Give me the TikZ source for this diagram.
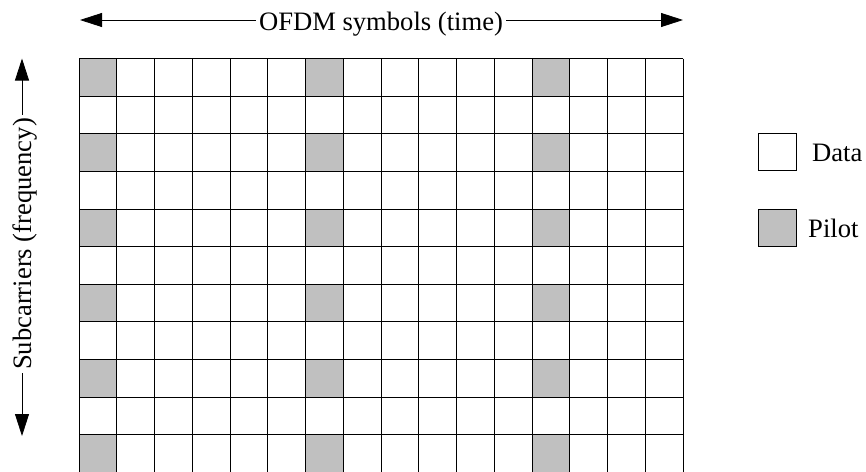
\documentclass[tikz,border=0pt]{standalone}
\usepackage{fontspec}
\setmainfont{Liberation Serif}
\usetikzlibrary{arrows.meta}
\definecolor{pilotgray}{RGB}{192,192,192}
\tikzset{
  gridline/.style={line width=0.8pt, black},
  pilotcell/.style={fill=pilotgray},
  axisarrow/.style={line width=0.8pt, -{Triangle[length=22pt,width=14pt]}},
  axislabel/.style={inner sep=3pt, font=\fontsize{26.6}{30}\selectfont},
  legendbox/.style={draw, line width=0.8pt, minimum width=38pt, minimum height=37pt, inner sep=0pt},
  legendtext/.style={inner sep=0pt, anchor=base west, font=\fontsize{26.6}{30}\selectfont}
}
\begin{document}
\begin{tikzpicture}[x=1pt,y=-1pt]
\useasboundingbox (0,0) rectangle (866,471);
\def\cw{37.75}
\def\ch{37.6}
\def\xo{79}
\def\yo{58.5}
% pilot cells
\foreach \c in {0,6,12}{
  \foreach \r in {0,2,4,6,8,10}{
    \fill[pilotcell] (\xo+\c*\cw,\yo+\r*\ch) rectangle (\xo+\c*\cw+\cw,\yo+\r*\ch+\ch);
  }
}
% grid lines
\foreach \c in {0,...,16}{
  \draw[gridline] (\xo+\c*\cw,\yo) -- (\xo+\c*\cw,\yo+11*\ch);
}
\foreach \r in {0,...,11}{
  \draw[gridline] (\xo,\yo+\r*\ch) -- (\xo+16*\cw,\yo+\r*\ch);
}
% time axis
\node[axislabel, anchor=base] (timelab) at (381,30) {OFDM symbols (time)};
\coordinate (tleft) at (80,20);
\coordinate (tright) at (683,20);
\draw[axisarrow] (timelab.west |- tleft) -- (tleft);
\draw[axisarrow] (timelab.east |- tright) -- (tright);
% frequency axis
\node[axislabel, anchor=base, rotate=90] (freqlab) at (31,244) {Subcarriers (frequency)};
\coordinate (ftop) at (22,58.5);
\coordinate (fbot) at (22,436);
\draw[axisarrow] (ftop |- freqlab.east) -- (ftop);
\draw[axisarrow] (fbot |- freqlab.west) -- (fbot);
% legend
\node[legendbox, fill=white] (databox) at (777,152) {};
\node[legendtext] (datatext) at (812,161.7) {Data};
\node[legendbox, fill=pilotgray] (pilotbox) at (777,228) {};
\node[legendtext] (pilottext) at (808,237) {Pilot};
\end{tikzpicture}
\end{document}
